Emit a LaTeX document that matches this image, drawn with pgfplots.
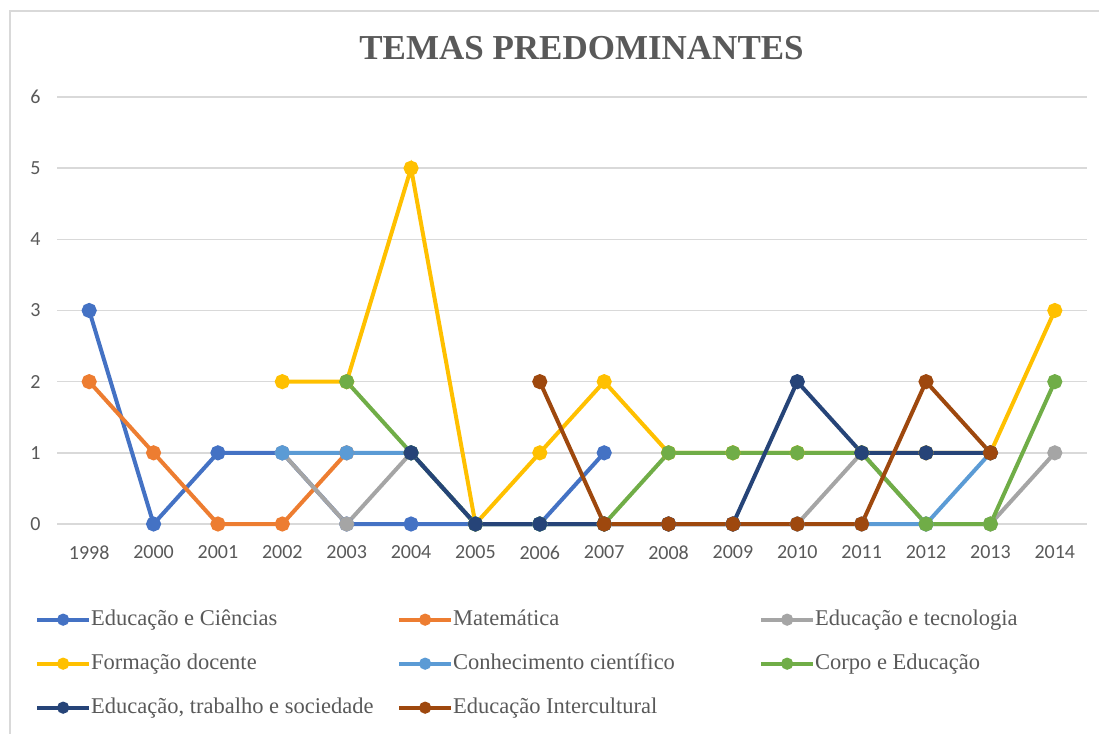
\documentclass[border=0pt]{standalone}
\usepackage{fontspec}
\setmainfont{Liberation Serif}
\newfontfamily\carlito{Carlito}
\usepackage{pgfplots}
\pgfplotsset{compat=1.18}
\definecolor{cBlue}{HTML}{4472C4}
\definecolor{cOrange}{HTML}{ED7D31}
\definecolor{cGray}{HTML}{A5A5A5}
\definecolor{cYellow}{HTML}{FFC000}
\definecolor{cLBlue}{HTML}{5B9BD5}
\definecolor{cGreen}{HTML}{70AD47}
\definecolor{cNavy}{HTML}{264478}
\definecolor{cBrown}{HTML}{9E480E}
\definecolor{txt}{HTML}{595959}
\definecolor{gridc}{HTML}{D9D9D9}
\begin{document}
\begin{tikzpicture}
\begin{axis}[
  scale only axis, width=1030pt, height=427pt,
  xmin=-0.5, xmax=15.5, ymin=0, ymax=6,
  xtick={0,...,15},
  xticklabels={1998,2000,2001,2002,2003,2004,2005,2006,2007,2008,2009,2010,2011,2012,2013,2014},
  ytick={0,...,6},
  axis line style={draw=none},
  major tick length=0pt,
  xmajorgrids=false, ymajorgrids=true,
  major grid style={draw=gridc, line width=1.5pt},
  /pgf/number format/assume math mode=true,
  ticklabel style={font=\carlito\fontsize{20}{24}\selectfont, text=txt},
  xticklabel style={yshift=-18pt},
  yticklabel style={xshift=-13pt},
  clip=false,
  every axis plot/.append style={line width=4pt, mark=*, mark size=5.5pt, mark options={solid}},
  legend columns=3,
  legend style={draw=none, fill=none, inner sep=0pt, at={(axis description cs:-0.0214,-0.199)}, anchor=north west,
    font=\fontsize{22.5}{26}\selectfont, text=txt,
    nodes={inner sep=0pt, text height=16pt, text depth=5pt},
    /tikz/row sep=23pt, /tikz/column sep=0pt},
  legend cell align=left,
  legend image code/.code={\draw[#1, line width=4pt, mark size=4pt, mark repeat=2, mark phase=2] plot coordinates {(0pt,0pt) (26pt,0pt) (52pt,0pt)};},
]
\addplot[cBlue] coordinates {(0,3)(1,0)(2,1)(3,1)(4,0)(5,0)(6,0)(7,0)(8,1)};
\addlegendentry{\makebox[306pt][l]{Educação e Ciências}}
\addplot[cOrange] coordinates {(0,2)(1,1)(2,0)(3,0)(4,1)};
\addlegendentry{\makebox[306pt][l]{Matemática}}
\addplot[cGray] coordinates {(3,1)(4,0)(5,1)(6,0)(7,0)(8,0)(9,0)(10,0)(11,0)(12,1)(13,0)(14,0)(15,1)};
\addlegendentry{Educação e tecnologia}
\addplot[cYellow] coordinates {(3,2)(4,2)(5,5)(6,0)(7,1)(8,2)(9,1)(10,1)(11,1)(12,1)(13,1)(14,1)(15,3)};
\addlegendentry{\makebox[306pt][l]{Formação docente}}
\addplot[cLBlue] coordinates {(3,1)(4,1)(5,1)(6,0)(7,0)(8,0)(9,0)(10,0)(11,0)(12,0)(13,0)(14,1)};
\addlegendentry{\makebox[306pt][l]{Conhecimento científico}}
\addplot[cGreen] coordinates {(4,2)(5,1)(6,0)(7,0)(8,0)(9,1)(10,1)(11,1)(12,1)(13,0)(14,0)(15,2)};
\addlegendentry{Corpo e Educação}
\addplot[cNavy] coordinates {(5,1)(6,0)(7,0)(8,0)(9,0)(10,0)(11,2)(12,1)(13,1)(14,1)};
\addlegendentry{\makebox[306pt][l]{Educação, trabalho e sociedade}}
\addplot[cBrown] coordinates {(7,2)(8,0)(9,0)(10,0)(11,0)(12,0)(13,2)(14,1)};
\addlegendentry{\makebox[306pt][l]{Educação Intercultural}}
\end{axis}
\node[font=\bfseries\fontsize{35}{40}\selectfont, text=txt, anchor=base] at (524.5pt,464pt) {TEMAS PREDOMINANTES};
\draw[gridc, line width=1.5pt] (-47pt,-230pt) -- (-47pt,513pt) -- (1060pt,513pt);
\pgfresetboundingbox
\useasboundingbox (-57pt,-209pt) rectangle (1042pt,524pt);
\end{tikzpicture}
\end{document}
